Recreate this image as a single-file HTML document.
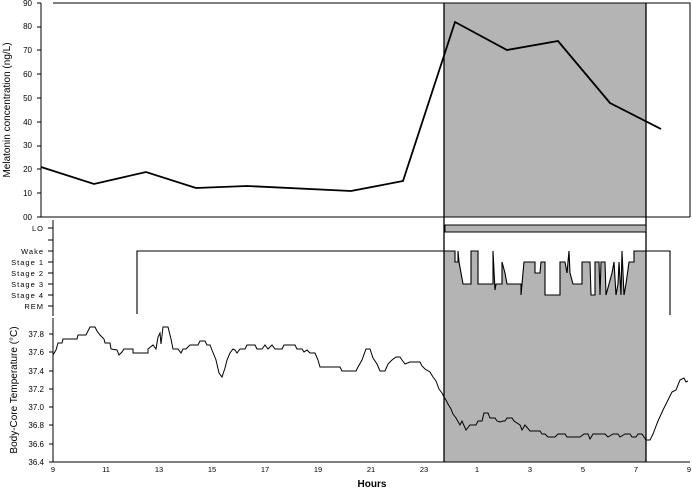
<!DOCTYPE html>
<html><head><style>
body{margin:0;background:#fff}
svg{font-family:"Liberation Sans",sans-serif}
</style></head><body>
<svg width="692" height="490" viewBox="0 0 692 490" xmlns="http://www.w3.org/2000/svg">
<defs>
<polyline id="hyp" points="444,251 455,251 455,262 458,262 458,251 459,262 461,273 463,284 471,284 471,251 478,251 478,284 493,284 493,251 495,290 496,284 502,284 502,262 505,273 507,284 521,284 521,295 522,284 524,262 535,262 535,273 540,273 541,262 545,262 545,295 560,295 560,262 565,262 567,273 569,251 570,273 573,284 582,284 582,262 590,262 591,295 595,295 595,262 599,262 600,295 601,262 605,262 606,295 612,273 614,262 616,295 618,284 619,262 621,295 622,251 624,295 626,284 629,262 634,262 634,251 646,251"/>
</defs>
<rect x="444" y="3" width="202" height="214" fill="#b4b4b4"/>
<polygon points="444,251 455,251 455,262 458,262 458,251 459,262 461,273 463,284 471,284 471,251 478,251 478,284 493,284 493,251 495,290 496,284 502,284 502,262 505,273 507,284 521,284 521,295 522,284 524,262 535,262 535,273 540,273 541,262 545,262 545,295 560,295 560,262 565,262 567,273 569,251 570,273 573,284 582,284 582,262 590,262 591,295 595,295 595,262 599,262 600,295 601,262 605,262 606,295 612,273 614,262 616,295 618,284 619,262 621,295 622,251 624,295 626,284 629,262 634,262 634,251 646,251 646,462 444,462" fill="#b4b4b4"/>
<line x1="444" y1="3" x2="444" y2="462" stroke="#000" stroke-width="1.3"/>
<line x1="646" y1="3" x2="646" y2="462" stroke="#000" stroke-width="1.3"/>
<polyline points="53,3 690,3 690,217" fill="none" stroke="#000" stroke-width="1"/>
<line x1="41" y1="217" x2="690" y2="217" stroke="#000"/>
<line x1="41" y1="3" x2="41" y2="217" stroke="#000"/>
<g font-size="8" text-anchor="end" fill="#000">
<text x="32" y="220">00</text><text x="32" y="196">10</text><text x="32" y="172">20</text><text x="32" y="148">30</text><text x="32" y="125">40</text><text x="32" y="101">50</text><text x="32" y="77">60</text><text x="32" y="53">70</text><text x="32" y="29">80</text><text x="32" y="6">90</text>
</g>
<g stroke="#000"><line x1="37" y1="217" x2="41" y2="217"/><line x1="37" y1="193" x2="41" y2="193"/><line x1="37" y1="169" x2="41" y2="169"/><line x1="37" y1="146" x2="41" y2="146"/><line x1="37" y1="122" x2="41" y2="122"/><line x1="37" y1="98" x2="41" y2="98"/><line x1="37" y1="74" x2="41" y2="74"/><line x1="37" y1="50" x2="41" y2="50"/><line x1="37" y1="27" x2="41" y2="27"/><line x1="37" y1="3" x2="41" y2="3"/></g>
<text transform="translate(10,110) rotate(-90)" font-size="10" text-anchor="middle">Melatonin concentration (ng/L)</text>
<polyline points="41,167 94,184 146,172 196,188 247,186 351,191 403,181 455,22 507,50 558,41 610,103 661,129" fill="none" stroke="#000" stroke-width="1.8"/>
<line x1="53" y1="220" x2="53" y2="316" stroke="#000"/>
<g font-size="7.5" text-anchor="end" letter-spacing="1">
<text x="44" y="231">LO</text><text x="44" y="254">Wake</text><text x="44" y="265">Stage 1</text><text x="44" y="276">Stage 2</text><text x="44" y="287">Stage 3</text><text x="44" y="298">Stage 4</text><text x="44" y="309">REM</text>
</g>
<g stroke="#000"><line x1="48" y1="228" x2="53" y2="228"/><line x1="48" y1="240" x2="53" y2="240"/><line x1="48" y1="251" x2="53" y2="251"/><line x1="48" y1="262" x2="53" y2="262"/><line x1="48" y1="273" x2="53" y2="273"/><line x1="48" y1="284" x2="53" y2="284"/><line x1="48" y1="295" x2="53" y2="295"/><line x1="48" y1="306" x2="53" y2="306"/></g>
<rect x="445" y="225" width="201" height="7" fill="#b4b4b4" stroke="#000"/>
<polyline points="137,314 137,251 444,251" fill="none" stroke="#000" stroke-width="1.1"/>
<use href="#hyp" fill="none" stroke="#000" stroke-width="1.1"/>
<polyline points="646,251 670,251 670,315" fill="none" stroke="#000" stroke-width="1.1"/>
<line x1="53" y1="318" x2="53" y2="462" stroke="#000"/>
<line x1="53" y1="462" x2="690" y2="462" stroke="#000"/>
<g font-size="8" text-anchor="end">
<text x="44" y="465">36.4</text><text x="44" y="447">36.6</text><text x="44" y="428">36.8</text><text x="44" y="410">37.0</text><text x="44" y="392">37.2</text><text x="44" y="374">37.4</text><text x="44" y="355">37.6</text><text x="44" y="337">37.8</text>
</g>
<g stroke="#000"><line x1="49" y1="462" x2="53" y2="462"/><line x1="49" y1="444" x2="53" y2="444"/><line x1="49" y1="425" x2="53" y2="425"/><line x1="49" y1="407" x2="53" y2="407"/><line x1="49" y1="389" x2="53" y2="389"/><line x1="49" y1="371" x2="53" y2="371"/><line x1="49" y1="352" x2="53" y2="352"/><line x1="49" y1="334" x2="53" y2="334"/></g>
<text transform="translate(17,390) rotate(-90)" font-size="10" text-anchor="middle">Body-Core Temperature (°C)</text>
<polyline points="53,355 56,350 58,343 62,343 63,339 77,339 78,335 86,335 88,331 90,327 95,327 97,331 100,335 104,339 105,343 110,343 111,349 117,350 119,355 122,352 124,349 133,349 133,353 148,353 148,349 153,345 156,349 158,337 160,333 161,344 163,327 168,327 171,339 173,349 178,349 181,353 183,349 186,349 190,345 198,345 200,341 205,341 207,345 210,345 212,350 216,360 219,373 222,377 225,368 227,360 230,353 233,349 235,350 237,353 240,349 245,349 247,345 255,345 257,349 262,349 265,345 268,349 272,345 275,349 282,349 284,345 295,345 297,349 302,349 304,352 307,350 310,353 315,353 318,360 320,367 340,367 342,371 356,371 358,367 362,360 366,349 370,349 373,358 377,364 380,371 385,371 388,364 392,360 396,357 400,357 402,360 405,364 410,362 420,362 422,366 425,369 430,372 433,377 436,381 439,389 442,393 444,397 446,400 448,404 451,409 453,414 456,418 460,425 462,421 466,430 470,425 476,425 478,421 482,421 484,413 488,413 490,418 495,418 497,421 500,422 503,421 505,421 507,418 512,418 514,421 520,425 522,430 525,425 530,431 540,431 542,434 545,434 548,437 555,437 558,434 565,434 567,437 575,437 580,437 584,434 588,434 590,439 593,434 600,434 605,434 608,437 613,434 618,434 620,437 625,434 630,434 632,437 636,437 638,434 642,434 644,437 646,440 650,440 653,434 658,421 663,410 668,400 672,392 676,390 680,380 684,378 686,382 688,381" fill="none" stroke="#000" stroke-width="1"/>
<g font-size="7.5" text-anchor="middle">
<text x="53" y="472">9</text><text x="106" y="472">11</text><text x="159" y="472">13</text><text x="212" y="472">15</text><text x="265" y="472">17</text><text x="318" y="472">19</text><text x="371" y="472">21</text><text x="424" y="472">23</text><text x="477" y="472">1</text><text x="530" y="472">3</text><text x="583" y="472">5</text><text x="636" y="472">7</text><text x="689" y="472">9</text>
</g>
<text x="372" y="487" font-size="10" font-weight="bold" text-anchor="middle">Hours</text>
</svg>
</body></html>
